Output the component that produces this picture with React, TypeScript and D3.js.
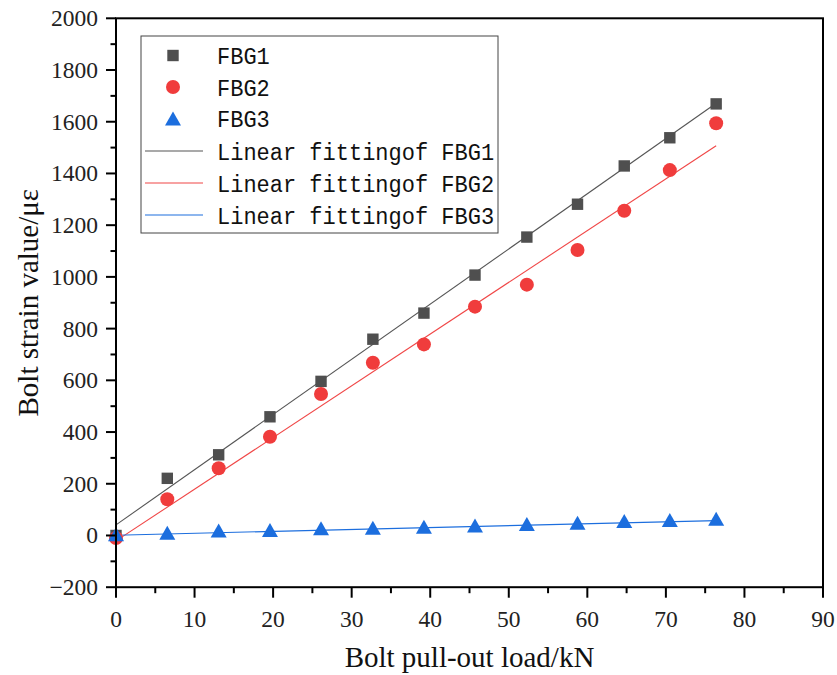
import React from "react";
import * as d3 from "d3";

const loads = [0, 6.53, 13.07, 19.6, 26.1, 32.7, 39.2, 45.7, 52.3, 58.75, 64.7, 70.5, 76.4];
const fbg1 = [0, 221, 312, 459, 596, 759, 860, 1007, 1154, 1281, 1429, 1538, 1669];
const fbg2 = [-10, 140, 260, 382, 547, 668, 739, 885, 970, 1104, 1256, 1413, 1594];
const fbg3 = [5, 11, 19, 21, 28, 30, 34, 39, 44, 49, 56, 60, 65];
const fitIntercepts = [41, -21, 1];
const fitSlopes = [21.34, 20.0, 0.74];
const seriesNames = ["FBG1", "FBG2", "FBG3"];
const fitNames = ["Linear fittingof FBG1", "Linear fittingof FBG2", "Linear fittingof FBG3"];
const xTicks = [0, 10, 20, 30, 40, 50, 60, 70, 80, 90];
const yTicks = [-200, 0, 200, 400, 600, 800, 1000, 1200, 1400, 1600, 1800, 2000];
const xTitle = "Bolt pull-out load/kN";
const yTitle = "Bolt strain value/με";

const colors = ["#4f4f4f", "#f03c3c", "#1c6ede"];
const lineColors = ["#555555", "#f04646", "#1c6ede"];

export default function App() {
  const W = 837, H = 675;
  const x = d3.scaleLinear().domain([0, 90]).range([116, 823]);
  const y = d3.scaleLinear().domain([-200, 2000]).range([587.2, 18.3]);
  const serif = "'Liberation Serif', 'Times New Roman', serif";
  const mono = "'Liberation Mono', 'Courier New', monospace";
  const data = [fbg1, fbg2, fbg3];
  const xMax = d3.max(loads) as number;

  const marker = (i: number, cx: number, cy: number, key: string) => {
    if (i === 0) return <rect key={key} x={cx - 5.7} y={cy - 5.7} width={11.4} height={11.4} fill={colors[0]} />;
    if (i === 1) return <circle key={key} cx={cx} cy={cy} r={7} fill={colors[1]} />;
    const p = d3.path();
    p.moveTo(cx, cy - 7);
    p.lineTo(cx + 8, cy + 7);
    p.lineTo(cx - 8, cy + 7);
    p.closePath();
    return <path key={key} d={p.toString()} fill={colors[2]} />;
  };

  const legendText = (s: string, tx: number, ty: number, key: string) => (
    <text key={key} transform={`translate(${tx},${ty}) scale(1,1.12)`} x={0} y={0}
      fontFamily={mono} fontSize={22} fill="#111">
      {s}
    </text>
  );

  const yMinor = d3.range(-200, 2001, 100);
  const xMinor = d3.range(0, 91, 5);
  const x0 = x(0), x1 = x(90), y0 = y(-200), y1 = y(2000);

  const legendRows = [55.5, 87, 118.5, 151, 183, 215];

  return (
    <svg width={W} height={H} style={{ position: "absolute", left: 0, top: 0, background: "#fff" }}>
      <rect x={0} y={0} width={W} height={H} fill="#fff" />
      {fitIntercepts.map((b, i) => {
        const line = d3.line<number>().x((v) => x(v)).y((v) => y(b + fitSlopes[i] * v));
        return <path key={"fit" + i} d={line([0, xMax]) as string} stroke={lineColors[i]} strokeWidth={1.1} fill="none" />;
      })}
      {data.map((s, i) => s.map((v, j) => marker(i, x(loads[j]), y(v), `m${i}-${j}`)))}

      <rect x={x0} y={y1} width={x1 - x0} height={y0 - y1} fill="none" stroke="#000" strokeWidth={2} />
      {yMinor.map((v) => (
        <line key={"yt" + v} x1={x0} x2={x0 - (v % 200 === 0 ? 10 : 5.5)} y1={y(v)} y2={y(v)} stroke="#000" strokeWidth={2} />
      ))}
      {xMinor.map((v) => (
        <line key={"xt" + v} y1={y0} y2={y0 + (v % 10 === 0 ? 10.5 : 6)} x1={x(v)} x2={x(v)} stroke="#000" strokeWidth={2} />
      ))}
      {yTicks.map((v) => (
        <text key={"yl" + v} x={98} y={y(v) + 8} textAnchor="end" fontFamily={serif} fontSize={23.5} fill="#222">
          {v < 0 ? "\u2212" + Math.abs(v) : String(v)}
        </text>
      ))}
      {xTicks.map((v) => (
        <text key={"xl" + v} x={x(v)} y={627} textAnchor="middle" fontFamily={serif} fontSize={23.5} fill="#222">
          {v}
        </text>
      ))}
      <text x={(x0 + x1) / 2} y={667} textAnchor="middle" fontFamily={serif} fontSize={29} fill="#111">
        {xTitle}
      </text>
      <text transform={`translate(38, ${(y0 + y1) / 2}) rotate(-90)`} textAnchor="middle" fontFamily={serif} fontSize={29} fill="#111">
        {yTitle}
      </text>

      <rect x={141} y={36} width={357} height={197} fill="#fff" stroke="#444" strokeWidth={1} />
      {seriesNames.map((n, i) => (
        <g key={"lg" + i}>
          {marker(i, 173, legendRows[i], "lm" + i)}
          {legendText(n, 217, legendRows[i] + 8.5, "lt" + i)}
        </g>
      ))}
      {fitNames.map((n, i) => (
        <g key={"lf" + i}>
          <line x1={145} x2={203} y1={legendRows[i + 3]} y2={legendRows[i + 3]} stroke={lineColors[i]} strokeWidth={1.2} />
          {legendText(n, 217, legendRows[i + 3] + 9, "lft" + i)}
        </g>
      ))}
    </svg>
  );
}
